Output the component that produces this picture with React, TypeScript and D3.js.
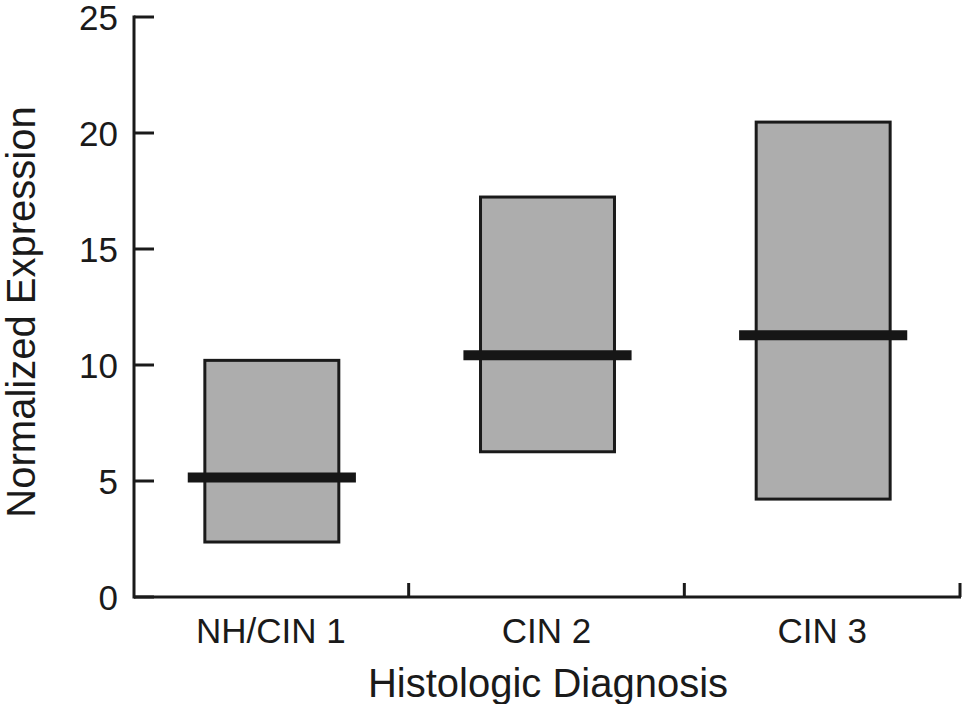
import React from "react";
import * as d3 from "d3";

const categories = ["NH/CIN 1", "CIN 2", "CIN 3"];
const lowValues = [2.37, 6.26, 4.22];
const highValues = [10.2, 17.24, 20.47];
const medianValues = [5.15, 10.42, 11.28];
const yTicks = [0, 5, 10, 15, 20, 25];
const xTitle = "Histologic Diagnosis";
const yTitle = "Normalized Expression";

const W = 962;
const H = 704;
const margin = { left: 134, top: 17, right: 1, bottom: 107 };
const FONT = "'Liberation Sans', Arial, Helvetica, sans-serif";
const INK = "#1a1a1a";

export default function App() {
  const x = d3
    .scaleBand<string>()
    .domain(categories)
    .range([margin.left, W - margin.right])
    .paddingInner(0)
    .paddingOuter(0);
  const y = d3
    .scaleLinear()
    .domain([0, 25])
    .range([H - margin.bottom, margin.top]);

  const bw = x.bandwidth();
  const boxW = bw * 0.486;
  const medW = bw * 0.61;
  const y0 = y(0);
  const boundaries = categories.map((c) => (x(c) as number) + bw);

  return (
    <svg
      width={W}
      height={H}
      style={{ position: "fixed", left: 0, top: 0, display: "block", background: "#fff" }}
      fontFamily={FONT}
    >
      <rect x={0} y={0} width={W} height={H} fill="#fff" />
      {categories.map((c, i) => {
        const cx = (x(c) as number) + bw / 2;
        return (
          <g key={c}>
            <rect
              x={cx - boxW / 2}
              y={y(highValues[i])}
              width={boxW}
              height={y(lowValues[i]) - y(highValues[i])}
              fill="#adadad"
              stroke={INK}
              strokeWidth={3}
            />
            <line
              x1={cx - medW / 2}
              x2={cx + medW / 2}
              y1={y(medianValues[i])}
              y2={y(medianValues[i])}
              stroke="#161616"
              strokeWidth={10}
            />
          </g>
        );
      })}
      <line x1={margin.left} x2={margin.left} y1={y(25)} y2={y0} stroke={INK} strokeWidth={3} strokeLinecap="square" />
      {yTicks.map((t) => (
        <g key={t}>
          <line x1={margin.left} x2={margin.left + 20} y1={y(t)} y2={y(t)} stroke={INK} strokeWidth={3} />
          <text x={118} y={y(t)} dy="0.36em" textAnchor="end" fontSize={35} fill={INK}>
            {t}
          </text>
        </g>
      ))}
      <line x1={margin.left} x2={W - margin.right} y1={y0} y2={y0} stroke={INK} strokeWidth={3} />
      {boundaries.map((b, i) => (
        <line key={i} x1={b - 1} x2={b - 1} y1={y0} y2={y0 - 14} stroke={INK} strokeWidth={3} />
      ))}
      {categories.map((c) => (
        <text
          key={c}
          x={(x(c) as number) + bw / 2 - 1}
          y={643}
          textAnchor="middle"
          fontSize={35}
          fill={INK}
        >
          {c}
        </text>
      ))}
      <text x={(margin.left + W) / 2} y={697} textAnchor="middle" fontSize={40} fill={INK}>
        {xTitle}
      </text>
      <text
        transform={`translate(35, ${(y(25) + y0) / 2 + 5}) rotate(-90)`}
        textAnchor="middle"
        fontSize={40}
        fill={INK}
      >
        {yTitle}
      </text>
    </svg>
  );
}
